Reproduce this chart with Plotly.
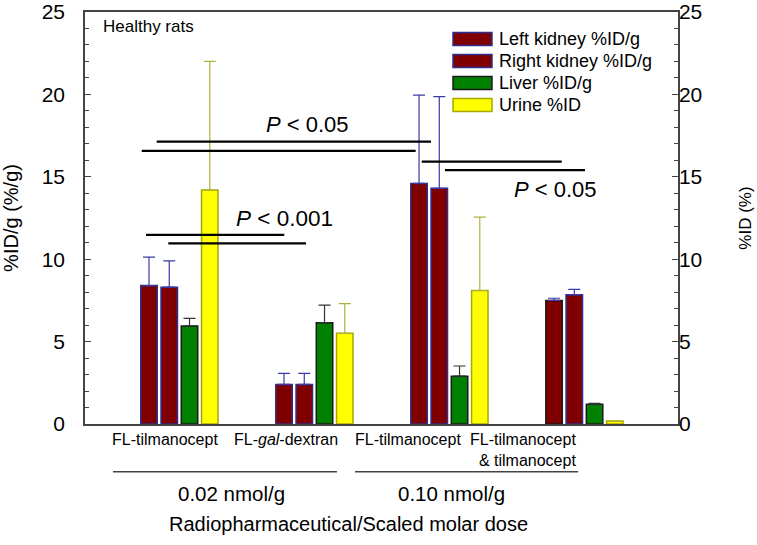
import plotly.graph_objects as go

# data
groups = [0, 1, 2, 3]
cat_labels = ["FL-tilmanocept", "FL-<i>gal</i>-dextran", "FL-tilmanocept",
              "FL-tilmanocept<br>& tilmanocept"]
dose_labels = ["0.02 nmol/g", "0.10 nmol/g"]

left_kidney = [8.4, 2.4, 14.6, 7.5]
left_kidney_sd = [1.72, 0.67, 5.35, 0.13]
right_kidney = [8.3, 2.4, 14.3, 7.85]
right_kidney_sd = [1.6, 0.67, 5.56, 0.32]
liver = [5.95, 6.15, 2.9, 1.2]
liver_sd = [0.46, 1.06, 0.62, 0.06]
urine = [14.2, 5.5, 8.1, 0.18]
urine_sd = [7.8, 1.8, 4.45, 0.0]

series = [
    ("Left kidney %ID/g", left_kidney, left_kidney_sd, "#800000",
     ["#2e2e8c", "#2e2e8c", "#2e2e8c", "#1a1a1a"], "#3a3aa8", "y"),
    ("Right kidney %ID/g", right_kidney, right_kidney_sd, "#800000", "#2e2e8c", "#3a3aa8", "y"),
    ("Liver %ID/g", liver, liver_sd, "#008000", "#1a1a1a", "#333333", "y"),
    ("Urine %ID", urine, urine_sd, "#ffff00", "#a8a800", "#b0b040", "y2"),
]

FONT = "Liberation Sans, Arial, sans-serif"
bw = 0.122
pitch = 0.150

fig = go.Figure()
for i, (name, vals, sd, fill, edge, ecol, ax) in enumerate(series):
    fig.add_trace(go.Bar(
        x=groups, y=vals, name=name, yaxis=ax,
        width=bw, offset=(i - 1.5) * pitch - bw / 2,
        marker=dict(color=fill, line=dict(color=edge, width=1.5)),
        error_y=dict(type="data", symmetric=False, array=sd,
                     arrayminus=[0] * len(sd), color=ecol,
                     thickness=1.2, width=6),
        showlegend=False,
    ))

shapes = []
# significance bars
sig_lines = [
    (-0.168, 1.864, 17.13), (-0.279, 1.750, 16.57),
    (1.795, 2.832, 15.92), (1.967, 3.004, 15.41),
    (-0.247, 0.777, 11.47), (-0.082, 0.938, 10.96),
]
for x0, x1, yy in sig_lines:
    shapes.append(dict(type="line", xref="x", yref="y", x0=x0, x1=x1, y0=yy, y1=yy,
                       line=dict(color="black", width=2.2)))

# dose underlines
for x0, x1 in [(-0.492, 1.167), (1.301, 2.953)]:
    shapes.append(dict(type="line", xref="x", yref="paper", x0=x0, x1=x1,
                       y0=-0.1158, y1=-0.1158, line=dict(color="#444", width=1.5)))

annotations = []
for txt, xx, yy, sz in [("<i>P</i> &lt; 0.05", 0.949, 18.2, 22),
                        ("<i>P</i> &lt; 0.001", 0.782, 12.48, 22.5),
                        ("<i>P</i> &lt; 0.05", 2.786, 14.2, 22)]:
    annotations.append(dict(text=txt, x=xx, y=yy, xref="x", yref="y", showarrow=False,
                            font=dict(size=sz, color="black", family=FONT)))

# category labels
for txt, xx, anc in zip(cat_labels, [-0.109, 0.790, 1.693, 2.953],
                        ["center", "center", "center", "right"]):
    annotations.append(dict(text=txt, x=xx, y=0, xref="x", yref="paper", yanchor="top",
                            xanchor=anc, align="right", yshift=-5, showarrow=False,
                            font=dict(size=16, color="black", family=FONT)))

for txt, xx in zip(dose_labels, [0.386, 2.012]):
    annotations.append(dict(text=txt, x=xx, y=-0.1675, xref="x", yref="paper",
                            yanchor="middle", showarrow=False,
                            font=dict(size=20.5, color="black", family=FONT)))

annotations.append(dict(text="Radiopharmaceutical/Scaled molar dose", x=0.445, y=-0.2427,
                        xref="paper", yref="paper", xanchor="center", yanchor="middle",
                        showarrow=False, font=dict(size=20, color="black", family=FONT)))
annotations.append(dict(text="Healthy rats", x=0.027, y=0.964, xref="paper", yref="paper",
                        xanchor="left", yanchor="middle", showarrow=False,
                        font=dict(size=17, color="black", family=FONT)))

# legend drawn by hand to get the wide swatches
leg_y = [0.9345, 0.8811, 0.8277, 0.7743]
for (name, vals, sd, fill, edge, ecol, ax), yy in zip(series, leg_y):
    edge1 = edge[0] if isinstance(edge, list) else edge
    shapes.append(dict(type="rect", xref="paper", yref="paper", x0=0.6206, x1=0.6863,
                       y0=yy - 0.0158, y1=yy + 0.0158, fillcolor=fill,
                       line=dict(color=edge1, width=1.5)))
    annotations.append(dict(text=name, x=0.6948, y=yy, xref="paper", yref="paper",
                            xanchor="left", yanchor="middle", showarrow=False,
                            font=dict(size=18, color="black", family=FONT)))

yax = dict(range=[0, 25], dtick=5, ticks="inside", ticklen=6, tickcolor="#444",
           minor=dict(dtick=1, ticks="inside", ticklen=4, tickcolor="#444"),
           showgrid=False, zeroline=False, showline=True, linecolor="#444", linewidth=1.5,
           automargin=False, ticklabeloverflow="allow",
           tickfont=dict(size=21, color="black", family=FONT))

fig.update_layout(
    width=757, height=545,
    margin=dict(l=85, r=79, t=12, b=121),
    paper_bgcolor="white", plot_bgcolor="white",
    font=dict(family=FONT, color="black"),
    barmode="overlay",
    xaxis=dict(range=[-0.699, 3.693], showticklabels=False, ticks="", showgrid=False,
               automargin=False, zeroline=False, showline=True, mirror=True,
               linecolor="#444", linewidth=1.5),
    yaxis=dict(**yax, ticklabelstandoff=14,
               title=dict(text="%ID/g (%/g)", font=dict(size=20), standoff=32)),
    yaxis2=dict(**yax, overlaying="y", side="right", ticklabelstandoff=-5,
                title=dict(text="%ID (%)", font=dict(size=17), standoff=38)),
    shapes=shapes,
    annotations=annotations,
)

# drop the default 8px page margin so the figure fills the window
fig.write_html("out.html", config={"displayModeBar": False},
               post_script="document.body.style.margin='0';")
